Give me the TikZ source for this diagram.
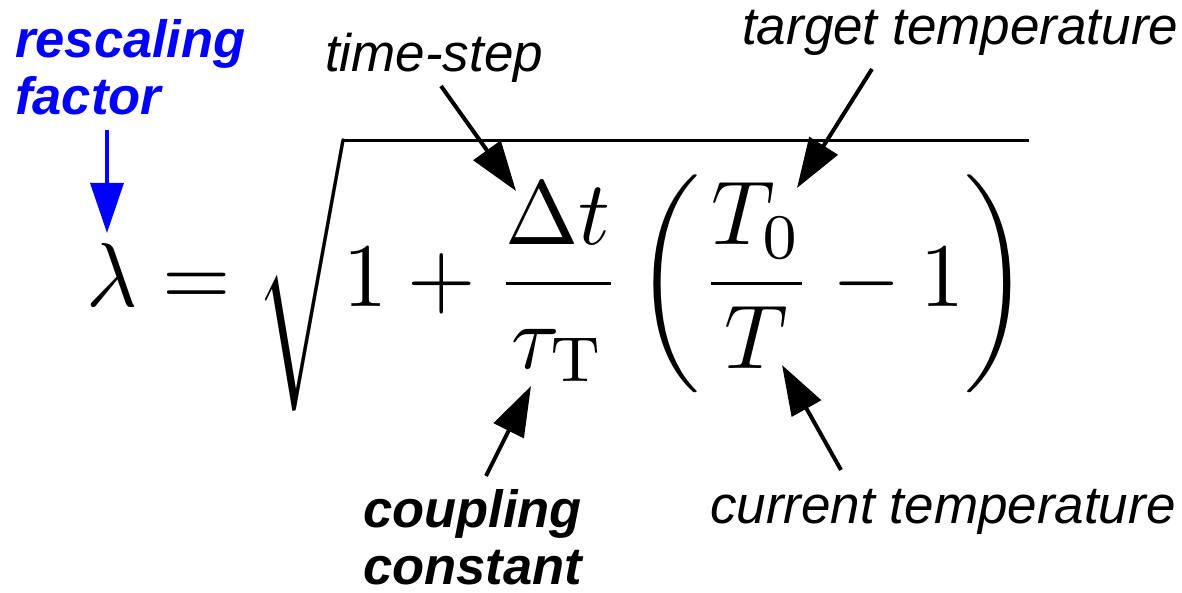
\documentclass[tikz,border=0pt]{standalone}
\usepackage{graphicx}
\usepackage{fontspec}
\newfontfamily\lab{Liberation Sans}
\usetikzlibrary{arrows.meta}
\definecolor{pureblue}{RGB}{0,0,255}
\begin{document}
\begin{tikzpicture}[x=1pt,y=-1pt,
  lbl/.style={font=\lab\itshape\fontsize{53}{58}\selectfont, anchor=base west, inner sep=0pt, align=left},
  blbl/.style={lbl, font=\lab\bfseries\itshape\fontsize{52.5}{57}\selectfont},
  blk/.style={line width=4pt, -{Triangle[length=50pt,width=33pt]}},
  blu/.style={draw=pureblue, line width=3.5pt, -{Triangle[length=50pt,width=33pt]}, pureblue}]
\useasboundingbox (0,0) rectangle (1182,593);

\node[inner sep=0pt] (eq) at (558,273)
  {\scalebox{8.8}[9.08]{$\displaystyle \lambda = \sqrt{1+\frac{\Delta t}{\tau_{\mathrm{T}}}\left(\frac{T_0}{T}-1\right)}$}};

\node[blbl, text=pureblue] (rf) at (15,115) {rescaling\\factor};
\node[lbl] (ts) at (325,72) {time-step};
\node[lbl] (tt) at (742,45) {target temperature};
\node[blbl] (cc) at (363,584) {coupling\\constant};
\node[lbl] (ct) at (710,523) {current temperature};

\coordinate (rfs) at (107,130);  \coordinate (rft) at (107,233);
\coordinate (tss) at (441,86);   \coordinate (tst) at (516,191);
\coordinate (tts) at (872,69);   \coordinate (ttt) at (797,188);
\coordinate (ccs) at (486,476);  \coordinate (cct) at (531,386);
\coordinate (cts) at (841,470);  \coordinate (ctt) at (782,365);

\draw[blu] (rfs) -- (rft);
\draw[blk] (tss) -- (tst);
\draw[blk] (tts) -- (ttt);
\draw[blk] (ccs) -- (cct);
\draw[blk] (cts) -- (ctt);
\end{tikzpicture}
\end{document}
